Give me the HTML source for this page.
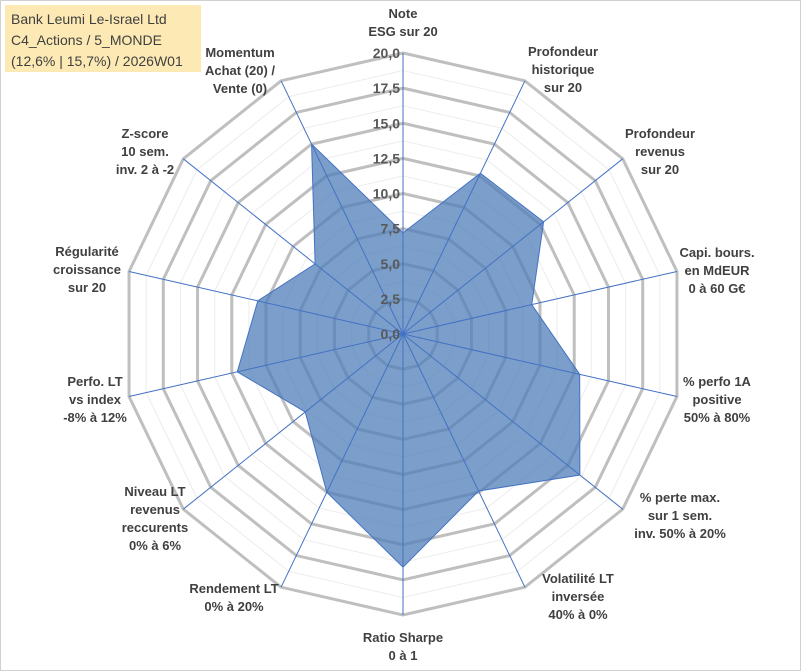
<!DOCTYPE html>
<html><head><meta charset="utf-8"><style>
body{margin:0;background:#fff;}
#wrap{position:relative;width:801px;height:671px;overflow:hidden;font-family:"Liberation Sans",sans-serif;}
svg text{font-family:"Liberation Sans",sans-serif;}
</style></head><body>
<div id="wrap">
<svg id="svg" width="801" height="671">
<rect x="0.5" y="0.5" width="800" height="670" fill="#fff" stroke="#d0d0d0"/>
<g id="grid"></g><g id="series"></g><g id="spokes"></g><g id="ticks"></g><g id="labels"></g>
<rect x="5" y="5" width="196" height="67" fill="#fde9b4"/>
<text x="11" y="24" font-size="14" fill="#404040">Bank Leumi Le-Israel Ltd</text>
<text x="11" y="45" font-size="14" fill="#404040">C4_Actions / 5_MONDE</text>
<text x="11" y="66" font-size="14" fill="#404040">(12,6% | 15,7%) / 2026W01</text>
</svg></div>
<script>
const categories=[["Note","ESG sur 20"],["Profondeur","historique","sur 20"],["Profondeur","revenus","sur 20"],["Capi. bours.","en MdEUR","0 à 60 G€"],["% perfo 1A","positive","50% à 80%"],["% perte max.","sur 1 sem.","inv. 50% à 20%"],["Volatilité LT","inversée","40% à 0%"],["Ratio Sharpe","0 à 1"],["Rendement LT","0% à 20%"],["Niveau LT","revenus","reccurents","0% à 6%"],["Perfo. LT","vs index","-8% à 12%"],["Régularité","croissance","sur 20"],["Z-score","10 sem.","inv. 2 à -2"],["Momentum","Achat (20) /","Vente (0)"]];
const values=[7.2,12.7,12.8,9.4,12.9,16.1,12.4,16.6,12.5,8.9,12.1,10.6,8.0,15.0];
const tickLabels=["0,0","2,5","5,0","7,5","10,0","12,5","15,0","17,5","20,0"];
const maxVal=20;
const labelPos=[[403,18],[563,56],[660,138],[717,257],[717,386],[680,502],[578,583],[403,642],[234,593],[155,496],[95,386],[87,256],[145,138],[240,57]];
const cx=403,cy=334,R=281,N=categories.length;
const NS="http://www.w3.org/2000/svg";
function ang(i){return i*2*Math.PI/N;}
function pt(i,v){const r=v/maxVal*R;return [cx+r*Math.sin(ang(i)),cy-r*Math.cos(ang(i))];}
function mk(tag,attrs,parent){const e=document.createElementNS(NS,tag);for(const k in attrs)e.setAttribute(k,attrs[k]);parent.appendChild(e);return e;}
const grid=document.getElementById('grid');
for(let k=1;k<=16;k++){const v=k*maxVal/16;const pts=[];for(let i=0;i<N;i++)pts.push(pt(i,v).join(','));
const major=k%2===0;
const p=mk('polygon',{points:pts.join(' '),fill:'none',stroke:major?'#bfbfbf':'#ececec','stroke-width':major?3:1},grid);

}
const sp=[];for(let i=0;i<N;i++)sp.push(pt(i,values[i]).join(','));
const poly=mk('polygon',{points:sp.join(' '),fill:'#4f7db8','fill-opacity':0.75,stroke:'#4472c4','stroke-width':1},document.getElementById('series'));


const spokes=document.getElementById('spokes');
for(let i=0;i<N;i++){const [x,y]=pt(i,maxVal);const l=mk('line',{x1:cx,y1:cy,x2:x,y2:y,stroke:'#4472c4','stroke-width':1},spokes);

}
const ticks=document.getElementById('ticks');
tickLabels.forEach((t,k)=>{const v=k*maxVal/(tickLabels.length-1);const y=cy-v/maxVal*R;
const e=mk('text',{x:cx-3,y:y+5,'text-anchor':'end','font-size':14,'font-weight':'bold',fill:'#595959'},ticks);e.textContent=t;

});
const labels=document.getElementById('labels');
categories.forEach((lines,i)=>{const [x,y0]=labelPos[i];
lines.forEach((ln,j)=>{const e=mk('text',{x:x,y:y0+j*18,'text-anchor':'middle','font-size':13,'font-weight':'bold',fill:'#404040'},labels);e.textContent=ln;

});});
</script>
</body></html>
